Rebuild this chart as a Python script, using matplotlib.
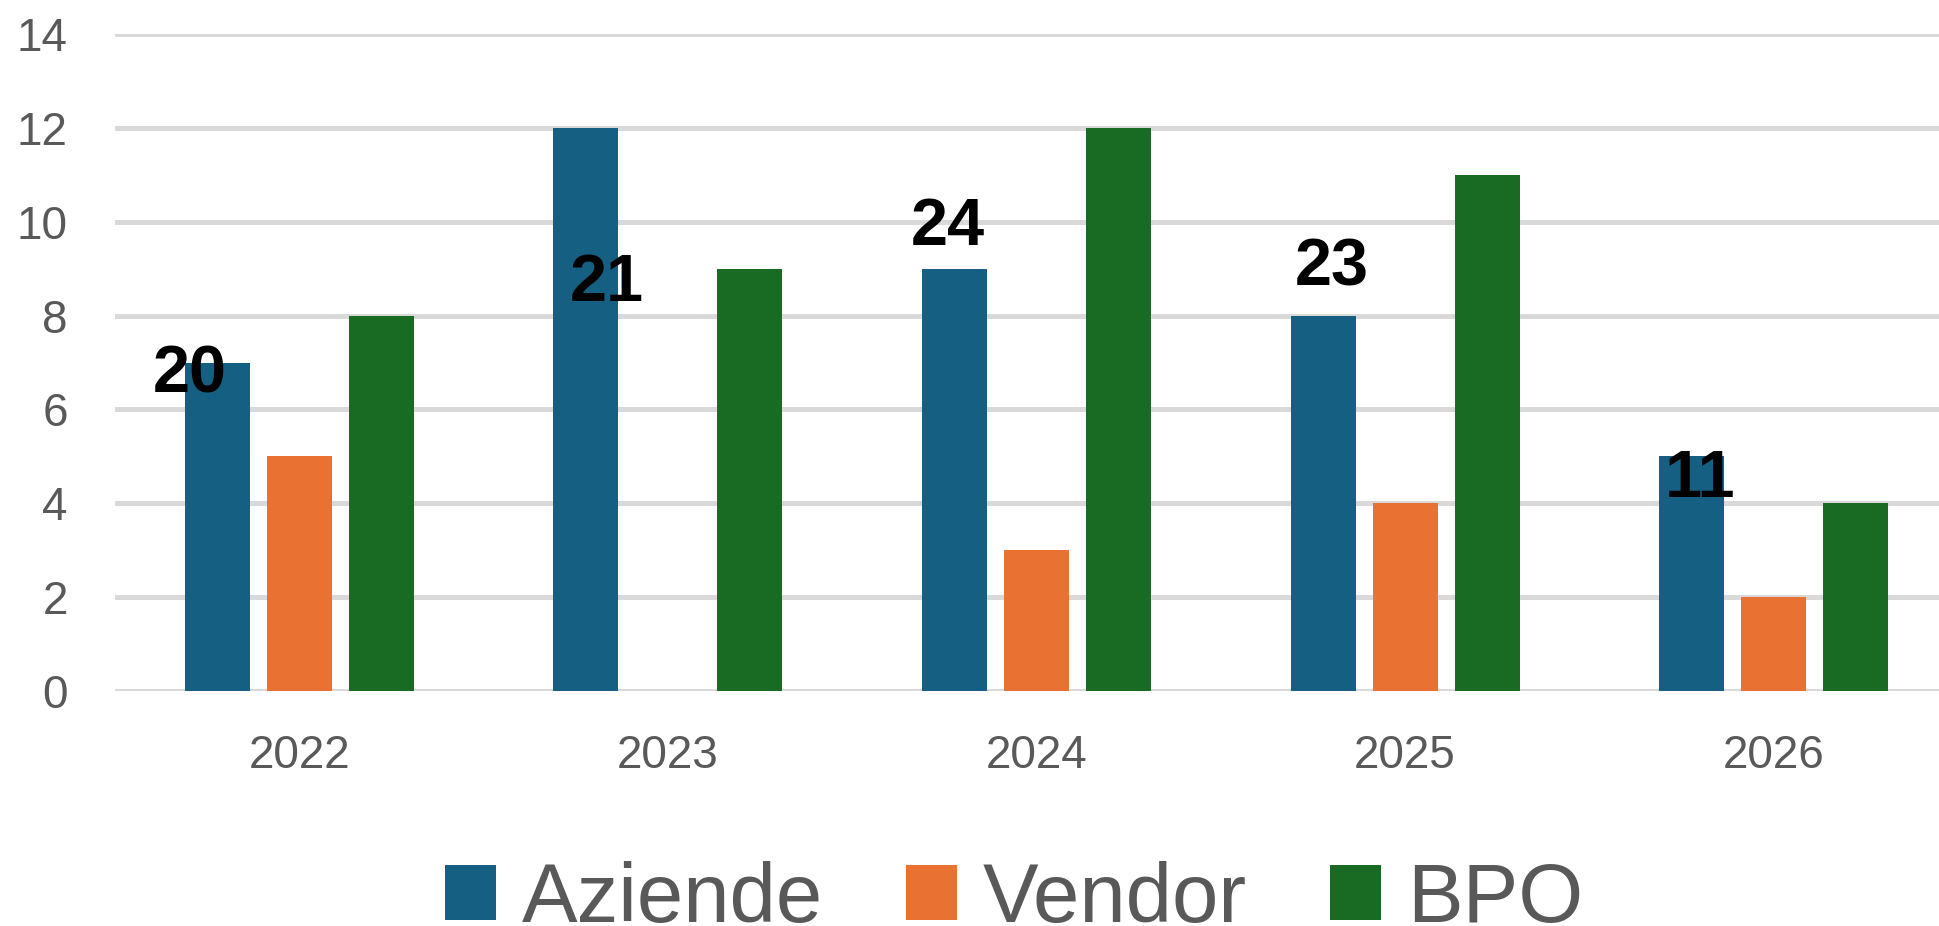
import numpy as np
import matplotlib
matplotlib.use("Agg")
import matplotlib.pyplot as plt

years = ["2022", "2023", "2024", "2025", "2026"]
series = ["Aziende", "Vendor", "BPO"]
aziende = [7, 12, 9, 8, 5]
vendor = [5, 0, 3, 4, 2]
bpo = [8, 9, 12, 11, 4]
colors = ["#156082", "#E97132", "#196B24"]

# totals shown as loose labels (placed like in the original sheet)
totals = [a + v + b for a, v, b in zip(aziende, vendor, bpo)]
label_dx = [-0.296, -0.166, -0.24, -0.20, -0.20]
label_base = [6.37, 8.31, 9.50, 8.65, 4.13]

plt.rcParams['font.family'] = ['Liberation Sans', 'DejaVu Sans']

fig = plt.figure(figsize=(19.4, 9.26), dpi=100)
ax = fig.add_axes([115 / 1940, 1 - 691 / 926, 1843 / 1940, 657 / 926])

x = np.arange(len(years))
width = 0.176
step = 0.2225
for i, (name, vals) in enumerate(zip(series, [aziende, vendor, bpo])):
    ax.bar(x + (i - 1) * step, vals, width, color=colors[i], label=name, zorder=3)

for i, t in enumerate(totals):
    ax.text(x[i] + label_dx[i], label_base[i], str(t), ha="center", va="baseline",
            fontsize=48, fontweight="bold", color="black", zorder=5)

ax.set_xlim(-0.5, len(years) - 0.5)
ax.set_ylim(0, 14)
ax.set_yticks(range(0, 15, 2))
ax.set_xticks(x)
ax.set_xticklabels(years)
ax.grid(axis="y", color="#d9d9d9", linewidth=3.6, zorder=0)
ax.set_axisbelow(True)
for s in ax.spines.values():
    s.set_visible(False)
ax.tick_params(axis="both", length=0, labelsize=33, labelcolor="#595959")
ax.tick_params(axis="y", pad=34)
ax.tick_params(axis="x", pad=31)

fig.legend(loc="center", bbox_to_anchor=(1014 / 1940, 1 - 900 / 926),
           ncol=3, frameon=False, fontsize=60, labelcolor="#595959",
           handlelength=0.61, handleheight=0.64, handletextpad=0.31,
           columnspacing=1.0, borderpad=0, borderaxespad=0)

fig.savefig("out.png", dpi=100)
